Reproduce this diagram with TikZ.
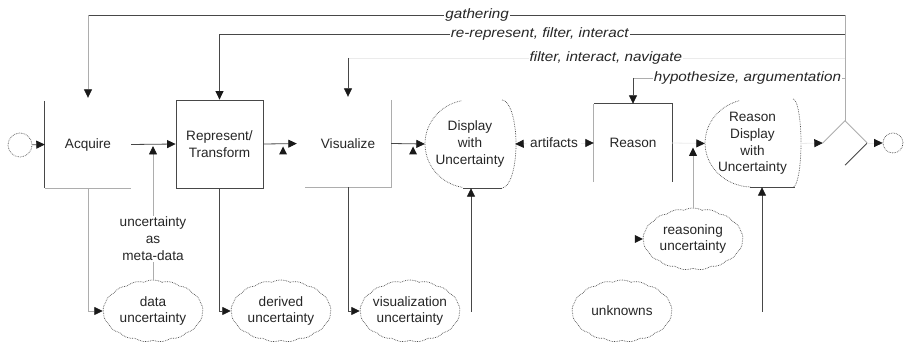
\documentclass[tikz,border=0pt]{standalone}
\usepackage{fontspec}
\setmainfont{Liberation Sans}
\newfontfamily\flowlabelfont[FakeStretch=1.12]{Liberation Sans}
\usetikzlibrary{arrows.meta,shapes.geometric,shapes.symbols,calc}

\begin{document}
\begin{tikzpicture}[x=1pt,y=-1pt,
  every node/.style={font=\fontsize{13.6}{16.8}\selectfont, text=black!85},
  ln/.style={draw=black!72, line width=0.8pt},
  lnf/.style={draw=black!32, line width=0.8pt},
  lnx/.style={draw=black!8, line width=0.8pt},
  tip/.style={-{Triangle[length=8.5pt,width=8pt,color=black!90]}},
  outl/.style={draw=black!70, densely dotted, line width=0.7pt},
  cl/.style={cloud, cloud puffs=17, cloud puff arc=55, cloud ignores aspect,
             minimum width=100pt, minimum height=62pt, inner sep=0pt,
             draw=black!70, densely dotted, line width=0.7pt},
  flowlab/.style={font=\flowlabelfont\itshape\fontsize{13.6}{16}\selectfont,
             fill=white, inner xsep=1pt, inner ysep=1pt},
  tipmarker/.style={fill=black!90},
]
\useasboundingbox (0,0) rectangle (906,344);

% ---- main process chain ----
\node[circle, minimum size=24pt, inner sep=0pt, outl] (start) at (20,145) {};
\node[minimum width=86pt, minimum height=87pt, inner sep=0pt] (acq) at (88,144.5) {Acquire};
\node[draw=black!72, line width=0.8pt, minimum width=87pt, minimum height=88pt,
      inner sep=0pt, align=center] (rep) at (219.5,144) {Represent/\\Transform};
\node[minimum width=86pt, minimum height=87pt, inner sep=0pt] (vis) at (348,143.5) {Visualize};
\node[minimum width=90pt, minimum height=88pt, inner sep=0pt, align=center] (disp) at (470,144)
      {Display\\with\\Uncertainty};
\node (art) at (554,143) {artifacts};
\node[minimum width=78pt, minimum height=78pt, inner sep=0pt] (reason) at (633,143) {Reason};
\node[minimum width=95pt, minimum height=87pt, inner sep=0pt, align=center] (rdisp) at (752.5,143.5)
      {Reason\\Display\\with\\Uncertainty};
\node[diamond, minimum width=44pt, minimum height=44pt, inner sep=0pt] (gw) at (845,143) {};
\node[circle, minimum size=20pt, inner sep=0pt, outl] (end) at (893,143) {};

% ---- uncertainty clouds ----
\node[cl, label={[align=center]center:data\\uncertainty}] (data) at (153,311) {};
\node[cl, label={[align=center]center:derived\\uncertainty}] (derived) at (281,311) {};
\node[cl, label={[align=center]center:visualization\\uncertainty}] (visu) at (410,311) {};
\node[cl, label={[align=center]center:reasoning\\uncertainty}] (reasonu) at (693,239) {};
\node[cl, label={center:unknowns}] (unk) at (622,311) {};

% ---- partial box outlines ----
\draw[ln] (acq.north west) -- (acq.south west);
\draw[lnf] (acq.south west) -- (acq.south east);
\draw[lnf] (vis.north east) -- (vis.south east) -- (vis.south west);
\draw[lnf] (reason.south west) -- (reason.north west);
\draw[ln] (reason.north west) -- (reason.north east) -- (reason.south east);
\draw[lnf] (gw.west) -- (gw.north) -- (gw.east);
\draw[ln] (gw.east) -- (gw.south);

% display shapes: dotted rounded outline with a solid base
\draw[outl] (462.2,187.3) arc[start angle=100, end angle=260, x radius=45, y radius=44];
\draw[outl] (502,100) arc[start angle=-90, end angle=90, x radius=14, y radius=44];
\draw[ln] (463,188) -- (502,188);
\draw[outl] (750.4,187) arc[start angle=92, end angle=255, x radius=47, y radius=44];
\draw[outl] (793,99) arc[start angle=-90, end angle=90, x radius=8, y radius=44];
\draw[ln] (750,187) -- (795,187);

% ---- flow connectors ----
\draw[ln,tip] (start) -- (acq.west);
\draw[ln,tip] (acq.east) -- (rep.west);
\draw[ln,tip,shorten >=8pt] (rep.east) -- (vis.west);
\draw[ln,tip] (vis.east) -- (disp.west);
\draw[lnx,tip] (art) -- (disp.east);
\draw[lnx,tip] (art) -- (reason.west);
\draw[lnx,tip] (reason.east) -- (rdisp.west);
\draw[lnx,tip] (rdisp.east) -- (gw.west);
\draw[lnx,tip] (gw.east) -- (end.west);

% ---- feedback loops along the top ----
\coordinate (fbA) at (845,15);
\coordinate (fbB) at (845,34);
\coordinate (fbC) at (845,58);
\coordinate (fbD) at (845,78);
\draw[lnf] (gw.north) -- (fbA);
\draw[ln] (fbA) -- node[flowlab, pos=0.486] {gathering} (fbA -| acq.north);
\draw[lnf,tip,shorten >=3pt] (fbA -| acq.north) -- (acq.north);
\draw[ln,tip] (fbB) -- node[flowlab, pos=0.488] {re-represent, filter, interact} (fbB -| rep.north) -- (rep.north);
\draw[lnx] (fbC) -- node[flowlab, pos=0.481] {filter, interact, navigate} (fbC -| vis.north);
\draw[ln,tip,shorten >=3pt] (fbC -| vis.north) -- (vis.north);
\draw[lnf] (fbD) -- node[flowlab, pos=0.46] {hypothesize, argumentation} (fbD -| reason.north);
\draw[ln,tip] (fbD -| reason.north) -- (reason.north);

% ---- uncertainty connectors ----
\draw[lnf,tip] (acq.south) |- (data.west);
\draw[ln,tip] (rep.south) |- (derived.west);
\draw[ln,tip] (vis.south) |- (visu.west);
\coordinate (vuBase) at (471,312);
\draw[ln,tip] (vuBase) -- (vuBase |- disp.south);
\coordinate (rdBase) at (762,312);
\draw[ln,tip] (rdBase) -- (rdBase |- rdisp.south);
\draw[lnf,tip] (data.north) -- node[pos=0.306, fill=white, align=center, inner sep=1pt]
      {uncertainty\\as\\meta-data} ($(data.north |- acq.east)+(0,1.5)$);
\draw[lnf,tip] (reasonu.north) -- ($(reasonu.north |- rdisp.west)+(0,4)$);

% small markers on the flow line and at the reasoning cloud
\fill[tipmarker] (283,146.5) -- ++(4,8) -- ++(-8,0) -- cycle;
\fill[tipmarker] (413,146.5) -- ++(4,8) -- ++(-8,0) -- cycle;
\fill[tipmarker] (reasonu.west) -- ++(-8,-4) -- ++(0,8) -- cycle;
\end{tikzpicture}
\end{document}
